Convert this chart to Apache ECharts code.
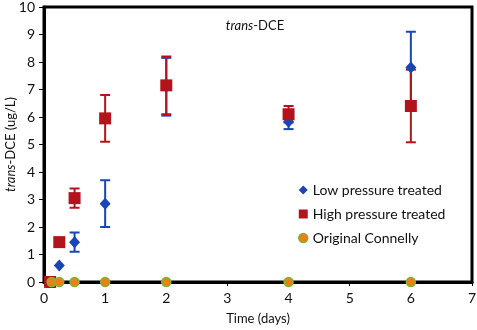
<!DOCTYPE html>
<html>
<head>
<meta charset="utf-8">
<script src="https://cdn.jsdelivr.net/npm/echarts@6/dist/echarts.min.js"></script>
<style>
  html, body { margin: 0; padding: 0; background: #fff; }
  #chart { width: 477px; height: 330px; }
</style>
</head>
<body>
<div id="chart"></div>
<script>
// values
var lowDays  = [0.125, 0.25, 0.5, 1, 2, 4, 6];
var lowMean  = [0, 0.6, 1.45, 2.85, 7.1, 5.83, 7.8];
var lowErr   = [0, 0, 0.35, 0.85, 1.05, 0.27, 1.3];

var highDays = [0.1, 0.25, 0.5, 1, 2, 4, 6];
var highMean = [0, 1.45, 3.05, 5.95, 7.15, 6.1, 6.4];
var highErr  = [0, 0, 0.35, 0.85, 1.05, 0.3, 1.32];

var origDays = [0.125, 0.25, 0.5, 1, 2, 4, 6];
var origMean = [0, 0, 0, 0, 0, 0, 0];

var xTicks = [0, 1, 2, 3, 4, 5, 6, 7];
var yTicks = [0, 1, 2, 3, 4, 5, 6, 7, 8, 9, 10];

var BLUE = '#1b45b5', RED = '#b3141b', ORANGE = '#f27c16', GREEN = '#7cb82f';
var FONT = 'Lato';

function pts(xs, ys) {
    return xs.map(function (x, i) { return [x, ys[i]]; });
}
function errs(xs, ys, es) {
    var out = [];
    xs.forEach(function (x, i) {
        if (es[i] > 0) out.push([x, ys[i] - es[i], ys[i] + es[i]]);
    });
    return out;
}
function errRender(color) {
    return function (params, api) {
        var x = api.value(0);
        var lo = api.coord([x, api.value(1)]);
        var hi = api.coord([x, api.value(2)]);
        var w = 5;
        var st = { stroke: color, lineWidth: 2 };
        return {
            type: 'group',
            children: [
                { type: 'line', shape: { x1: lo[0], y1: lo[1], x2: hi[0], y2: hi[1] }, style: st },
                { type: 'line', shape: { x1: lo[0] - w, y1: lo[1], x2: lo[0] + w, y2: lo[1] }, style: st },
                { type: 'line', shape: { x1: hi[0] - w, y1: hi[1], x2: hi[0] + w, y2: hi[1] }, style: st }
            ]
        };
    };
}

var chart = echarts.init(document.getElementById('chart'));
chart.setOption({
    animation: false,
    textStyle: { fontFamily: FONT },
    title: {
        text: '{i|trans}-DCE',
        left: 250, top: 14,
        textAlign: 'center',
        textStyle: {
            fontSize: 13, fontWeight: 'normal', color: '#111',
            rich: { i: { fontStyle: 'italic', fontSize: 13, color: '#111' } }
        }
    },
    legend: {
        orient: 'vertical',
        left: 293, top: 178,
        itemGap: 10,
        itemWidth: 9, itemHeight: 9,
        textStyle: { fontSize: 14, color: '#111', fontFamily: FONT },
        data: [
            { name: 'Low pressure treated', icon: 'diamond', itemStyle: { color: BLUE } },
            { name: 'High pressure treated', icon: 'rect', itemStyle: { color: RED } },
            { name: 'Original Connelly', icon: 'circle', itemStyle: { color: ORANGE, borderColor: GREEN, borderWidth: 1.5 } }
        ]
    },
    grid: {
        left: 44, right: 5, top: 7, bottom: 48,
        outerBoundsMode: 'none',
        show: true, borderColor: '#000', borderWidth: 3
    },
    xAxis: {
        type: 'value', min: xTicks[0], max: xTicks[xTicks.length - 1], interval: 1,
        name: 'Time (days)', nameLocation: 'middle', nameGap: 30, nameMoveOverlap: false,
        nameTextStyle: { fontSize: 13, color: '#111', fontFamily: FONT },
        axisLine: { lineStyle: { color: '#000', width: 3 } },
        axisTick: { show: true, length: 4, lineStyle: { color: '#000', width: 1 } },
        axisLabel: { fontSize: 14, color: '#111', margin: 9 },
        splitLine: { show: false }
    },
    yAxis: {
        type: 'value', min: yTicks[0], max: yTicks[yTicks.length - 1], interval: 1,
        name: '{i|trans}-DCE (ug/L)', nameLocation: 'middle', nameGap: 27, nameMoveOverlap: false,
        nameTextStyle: {
            fontSize: 13, color: '#111', fontFamily: FONT,
            rich: { i: { fontStyle: 'italic', fontSize: 13, color: '#111' } }
        },
        axisLine: { lineStyle: { color: '#000', width: 3 } },
        axisTick: { show: true, length: 5, lineStyle: { color: '#000', width: 1 } },
        axisLabel: { fontSize: 14, color: '#111', margin: 9 },
        splitLine: { show: false }
    },
    series: [
        {
            type: 'custom', name: 'lowErr', renderItem: errRender(BLUE),
            encode: { x: 0, y: [1, 2] }, data: errs(lowDays, lowMean, lowErr), z: 2
        },
        {
            type: 'custom', name: 'highErr', renderItem: errRender(RED),
            encode: { x: 0, y: [1, 2] }, data: errs(highDays, highMean, highErr), z: 3
        },
        {
            type: 'scatter', name: 'Low pressure treated', symbol: 'diamond', symbolSize: [11, 12],
            itemStyle: { color: BLUE, opacity: 1 }, data: pts(lowDays, lowMean), z: 4
        },
        {
            type: 'scatter', name: 'High pressure treated', symbol: 'rect', symbolSize: 12,
            itemStyle: { color: RED, opacity: 1 }, data: pts(highDays, highMean), z: 5
        },
        {
            type: 'scatter', name: 'Original Connelly', symbol: 'circle', symbolSize: 9,
            itemStyle: { color: ORANGE, borderColor: GREEN, borderWidth: 1.5, opacity: 1 },
            data: pts(origDays, origMean), z: 6
        }
    ]
});
</script>
</body>
</html>
